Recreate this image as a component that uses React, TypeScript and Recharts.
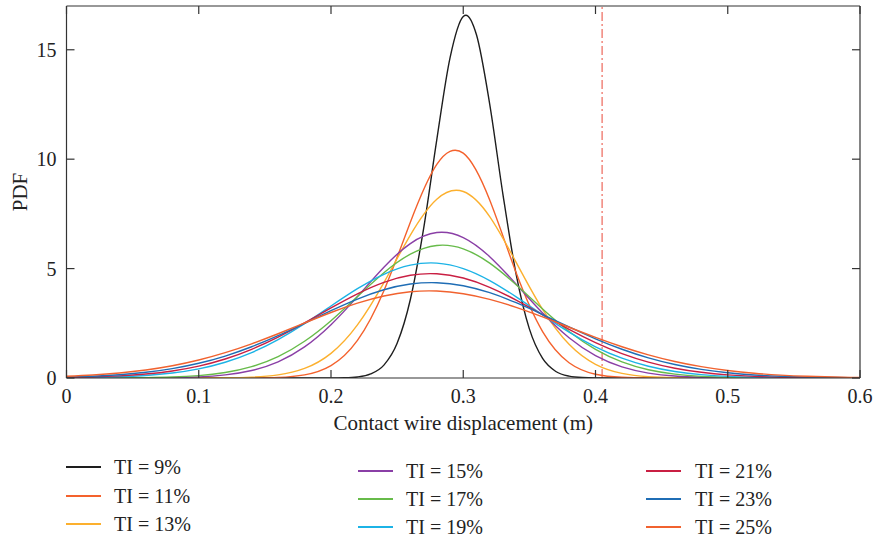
import React from 'react';
import { LineChart, Line, XAxis, YAxis, ReferenceLine, Legend } from 'recharts';

// Shared x grid (m) for the wider curves
const xGrid = [0, 0.02, 0.04, 0.06, 0.08, 0.1, 0.12, 0.14, 0.16, 0.18, 0.2, 0.22, 0.24, 0.26, 0.28, 0.3,
  0.32, 0.34, 0.36, 0.38, 0.4, 0.42, 0.44, 0.46, 0.48, 0.5, 0.52, 0.54, 0.56, 0.58, 0.6];
// Finer x grid for the narrow TI = 9% curve
const xBlack = [0, 0.1, 0.18, 0.2, 0.21, 0.22, 0.23, 0.24, 0.25, 0.26, 0.27, 0.28, 0.29, 0.3, 0.302,
  0.31, 0.32, 0.33, 0.34, 0.35, 0.36, 0.37, 0.38, 0.39, 0.4, 0.42, 0.5, 0.6];

const ti9 = [0, 0, 0, 0.002, 0.011, 0.048, 0.184, 0.589, 1.585, 3.587, 6.816, 10.893, 14.632, 16.522, 16.58,
  15.683, 12.515, 8.394, 4.734, 2.244, 0.894, 0.299, 0.084, 0.02, 0.004, 0, 0, 0];
const ti11 = [0, 0, 0, 0, 0, 0, 0, 0.004, 0.028, 0.145, 0.57, 1.721, 3.991, 7.119, 9.76,
  10.274, 8.132, 4.806, 2.121, 0.699, 0.172, 0.032, 0.004, 0, 0, 0, 0, 0, 0, 0, 0];
const ti13 = [0, 0, 0, 0, 0, 0.002, 0.009, 0.038, 0.141, 0.437, 1.127, 2.426, 4.359, 6.534, 8.171,
  8.523, 7.376, 5.284, 3.133, 1.538, 0.625, 0.21, 0.058, 0.013, 0.003, 0, 0, 0, 0, 0, 0];
const ti15 = [0, 0, 0.001, 0.005, 0.017, 0.052, 0.142, 0.343, 0.74, 1.421, 2.435, 3.718, 5.062, 6.144, 6.647,
  6.419, 5.546, 4.289, 2.967, 1.837, 1.018, 0.505, 0.224, 0.089, 0.032, 0.01, 0.003, 0.001, 0, 0, 0];
const ti17 = [0, 0.002, 0.005, 0.016, 0.044, 0.11, 0.25, 0.518, 0.978, 1.678, 2.619, 3.722, 4.811, 5.658, 6.056,
  5.903, 5.248, 4.257, 3.15, 2.126, 1.309, 0.735, 0.377, 0.176, 0.075, 0.029, 0.01, 0.003, 0.001, 0, 0];
const ti19 = [0.01, 0.025, 0.055, 0.115, 0.227, 0.417, 0.719, 1.161, 1.754, 2.482, 3.289, 4.08, 4.74, 5.156,
  5.252, 5.002, 4.455, 3.708, 2.885, 2.098, 1.427, 0.906, 0.539, 0.299, 0.155, 0.075, 0.034, 0.014, 0.006, 0.002, 0.001];
const ti21 = [0.022, 0.048, 0.095, 0.18, 0.322, 0.545, 0.87, 1.312, 1.869, 2.517, 3.202, 3.849, 4.374, 4.695,
  4.762, 4.568, 4.146, 3.561, 2.893, 2.224, 1.618, 1.113, 0.725, 0.446, 0.26, 0.144, 0.075, 0.037, 0.017, 0.008, 0.003];
const ti23 = [0.044, 0.083, 0.151, 0.261, 0.429, 0.672, 1.003, 1.427, 1.935, 2.499, 3.076, 3.608, 4.032, 4.293,
  4.356, 4.217, 3.898, 3.44, 2.899, 2.333, 1.792, 1.315, 0.921, 0.616, 0.393, 0.24, 0.14, 0.078, 0.041, 0.021, 0.01];
const ti25 = [0.08, 0.139, 0.23, 0.367, 0.561, 0.823, 1.159, 1.563, 2.022, 2.513, 2.993, 3.419, 3.748, 3.94,
  3.973, 3.853, 3.595, 3.228, 2.79, 2.319, 1.856, 1.429, 1.059, 0.755, 0.518, 0.342, 0.217, 0.133, 0.078, 0.044, 0.024];

const seriesNames = ['TI = 9%', 'TI = 11%', 'TI = 13%', 'TI = 15%', 'TI = 17%', 'TI = 19%', 'TI = 21%', 'TI = 23%', 'TI = 25%'];
const seriesColors = ['#1e1e1e', '#f4622d', '#fcb02e', '#8a3fa6', '#67bb4a', '#1cb3e6', '#c91f43', '#1f6db5', '#f1622f'];
const seriesValues = [ti9, ti11, ti13, ti15, ti17, ti19, ti21, ti23, ti25];
const seriesX = [xBlack, xGrid, xGrid, xGrid, xGrid, xGrid, xGrid, xGrid, xGrid];

const xTicks = [0, 0.1, 0.2, 0.3, 0.4, 0.5, 0.6];
const yTicks = [0, 5, 10, 15];
const limitX = 0.405;

const FONT = "'Liberation Serif', 'Times New Roman', serif";
const AXIS = '#333333';

const toPoints = (xs: number[], ys: number[]) => xs.map((x, i) => ({ x, y: ys[i] }));

const legendLineX = [66, 358, 646];
const legendTextX = [114, 406, 695];
const legendRowY = [[467, 496, 524], [471, 499, 527], [471, 499, 527]];

const renderLegend = () => (
  <div style={{ position: 'relative', width: 874, height: 541 }}>
    {seriesNames.map((name, i) => {
      const col = Math.floor(i / 3);
      const row = i % 3;
      const cy = legendRowY[col][row];
      return (
        <React.Fragment key={name}>
          <div style={{ position: 'absolute', left: legendLineX[col], top: cy - 0.75, width: 35, height: 1.5, background: seriesColors[i] }} />
          <div style={{ position: 'absolute', left: legendTextX[col], top: cy - 13, height: 26, lineHeight: '26px', fontSize: 20, fontFamily: FONT, color: '#222', whiteSpace: 'nowrap' }}>{name}</div>
        </React.Fragment>
      );
    })}
  </div>
);

const XTitle = (props: any) => {
  const vb = props.viewBox || {};
  return (
    <text x={vb.x + vb.width / 2} y={vb.y + 52} textAnchor="middle" fontSize={21} fontFamily={FONT} fill="#222">
      Contact wire displacement (m)
    </text>
  );
};

const YTitle = (props: any) => {
  const vb = props.viewBox || {};
  const cy = vb.y + vb.height / 2;
  return (
    <text x={27} y={cy} transform={`rotate(-90 27 ${cy})`} textAnchor="middle" fontSize={21} fontFamily={FONT} fill="#222">
      PDF
    </text>
  );
};

const NoTick = () => <g />;

export default function App() {
  return (
    <div style={{ position: 'absolute', left: 0, top: 0, width: 874, height: 541, background: '#fff' }}>
      <LineChart width={874} height={541} margin={{ top: 5, right: 13, left: 6.5, bottom: 103 }}>
        <XAxis
          dataKey="x" type="number" domain={[0, 0.6]} ticks={xTicks} interval={0} allowDataOverflow
          height={60} tickSize={-8} tickMargin={19}
          axisLine={{ stroke: AXIS, strokeWidth: 1.2 }} tickLine={{ stroke: AXIS, strokeWidth: 1.2 }}
          tick={{ fill: '#222', fontSize: 20, fontFamily: FONT }}
          label={XTitle}
        />
        <XAxis
          xAxisId="top" orientation="top" dataKey="x" type="number" domain={[0, 0.6]} ticks={xTicks} interval={0} allowDataOverflow
          height={1} tickSize={-8}
          axisLine={{ stroke: AXIS, strokeWidth: 1.2 }} tickLine={{ stroke: AXIS, strokeWidth: 1.2 }}
          tick={NoTick}
        />
        <YAxis
          type="number" domain={[0, 17]} ticks={yTicks} interval={0} allowDataOverflow
          width={60} tickSize={-8} tickMargin={18}
          axisLine={{ stroke: AXIS, strokeWidth: 1.2 }} tickLine={{ stroke: AXIS, strokeWidth: 1.2 }}
          tick={{ fill: '#222', fontSize: 20, fontFamily: FONT }}
          label={YTitle}
        />
        <YAxis
          yAxisId="right" orientation="right" type="number" domain={[0, 17]} ticks={yTicks} interval={0} allowDataOverflow
          width={1} tickSize={-8}
          axisLine={{ stroke: AXIS, strokeWidth: 1.2 }} tickLine={{ stroke: AXIS, strokeWidth: 1.2 }}
          tick={NoTick}
        />
        <ReferenceLine x={limitX} stroke="#ef7468" strokeWidth={1.3} strokeDasharray="9 3 2 3" />
        {seriesValues.map((vals, i) => (
          <Line
            key={seriesNames[i]}
            name={seriesNames[i]}
            data={toPoints(seriesX[i], vals)}
            dataKey="y"
            type={i === 0 ? 'monotone' : 'natural'}
            stroke={seriesColors[i]}
            strokeWidth={1.4}
            dot={false}
            activeDot={false}
            isAnimationActive={false}
          />
        ))}
        <Legend
          layout="horizontal" verticalAlign="middle" align="center"
          wrapperStyle={{ position: 'absolute', left: 0, top: 0, width: 874, height: 541, pointerEvents: 'none' }}
          content={renderLegend}
        />
      </LineChart>
    </div>
  );
}
